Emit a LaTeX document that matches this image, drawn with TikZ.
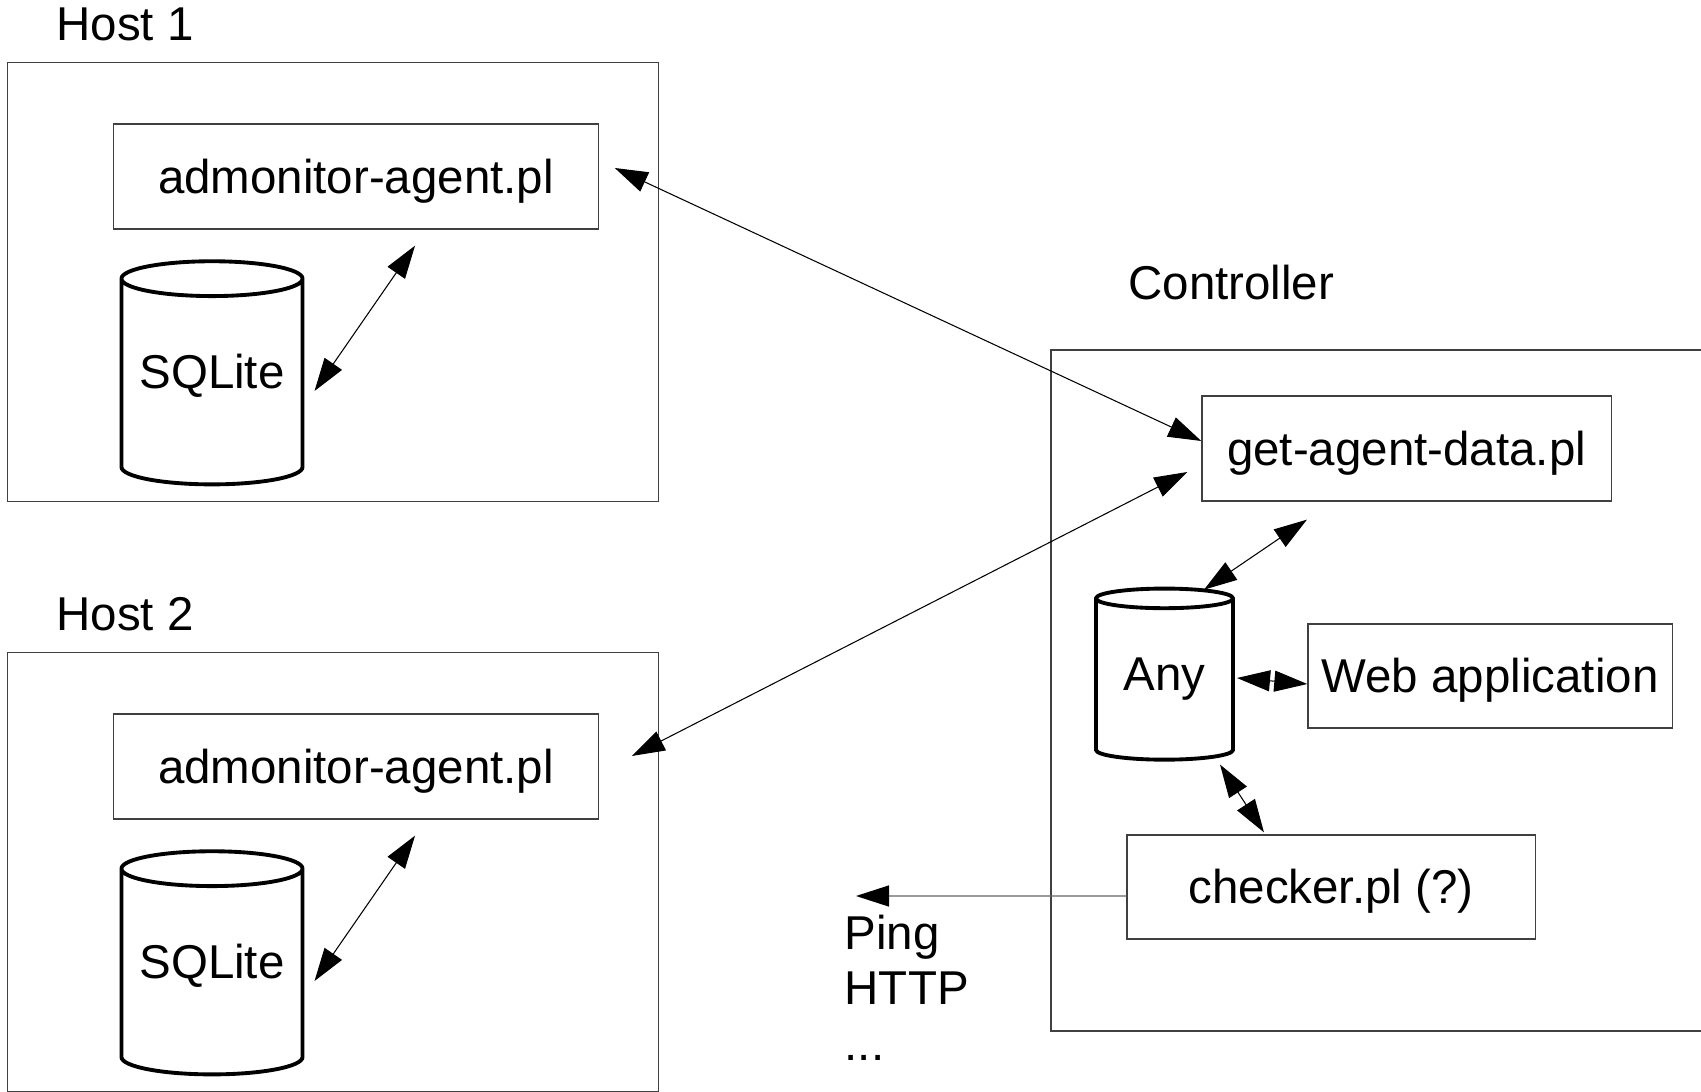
\documentclass[tikz,border=0pt]{standalone}
\usepackage{fontspec}
\setmainfont{Liberation Sans}
\usetikzlibrary{arrows.meta,shapes.geometric}

\begin{document}
\begin{tikzpicture}[x=0.01cm, y=-0.01cm,
    every node/.style={font=\fontsize{13.5pt}{15pt}\selectfont},
    group/.style={draw=black!75, line width=0.35pt, inner sep=0pt},
    script/.style={draw=black!75, line width=0.35pt, inner sep=0pt, text height=1.0em, text depth=0.06em},
    db/.style={cylinder, shape border rotate=90, draw, line width=1.1pt, aspect=0.24, inner sep=0pt, text height=0.73em, text depth=0.37em},
    link/.style={{Triangle[length=0.33cm,width=0.21cm]}-{Triangle[length=0.33cm,width=0.21cm]}, line width=0.3pt}]
\useasboundingbox (0,0) rectangle (1701,1092);
% Draw hosts
\foreach \n/\y in {1/0, 2/590} {
    \node[anchor=base west] (title\n) at (44,{41+\y}) {Host \n};
    \node[group, minimum width=6.51cm, minimum height=4.38cm] (host\n) at (333,{282+\y}) {};
    \node[script, minimum width=4.84cm, minimum height=1.05cm] (agent\n) at (356,{176.5+\y}) {admonitor-agent.pl};
    \node[db, minimum width=1.81cm, minimum height=2.23cm] (sql\n) at (212,{382.5+\y}) {SQLite};
    \draw[link] ([xshift=0.1cm,yshift=-0.085cm]sql\n.east) -- ([xshift=0.59cm,yshift=-0.16cm]agent\n.south);
}
% Draw controller
\node[anchor=base west] (ctrltitle) at (1116,300) {Controller};
\draw[draw=black!75, line width=0.35pt] (1701,350) -- (1051,350) -- (1051,1031) -- (1701,1031);
\node[script, minimum width=4.09cm, minimum height=1.05cm] (gad) at (1406.5,448.5) {get-agent-data.pl};
\node[db, minimum width=1.37cm, minimum height=1.71cm, text depth=0.15em] (any) at (1164.5,680) {Any};
\node[script, minimum width=3.64cm, minimum height=1.04cm] (web) at (1490,676) {Web application};
\node[script, minimum width=4.08cm, minimum height=1.04cm] (checker) at (1331,887) {checker.pl (?)};
% Draw links
\draw[link] ([xshift=0.16cm,yshift=0.085cm]agent1.east) -- ([yshift=0.075cm]gad.west);
\draw[link] ([xshift=0.33cm,yshift=0.105cm]agent2.east) -- ([xshift=-0.14cm,yshift=-0.235cm]gad.west);
\draw[link] ([xshift=-0.995cm,yshift=-0.18cm]gad.south) -- ([xshift=0.395cm,yshift=-0.03cm]any.north);
\draw[link] ([xshift=0.02cm,yshift=0.02cm]any.east) -- ([yshift=-0.08cm]web.west);
\draw[link] ([xshift=0.555cm,yshift=-0.03cm]any.south) -- ([xshift=-0.67cm,yshift=0.02cm]checker.north);
\coordinate (ping) at (856,896);
\draw[-{Triangle[length=0.33cm,width=0.21cm,color=black]}, draw=black!60, line width=0.4pt] ([yshift=-0.09cm]checker.west) -- (ping);
\node[anchor=north west, align=left, inner sep=0pt, font=\fontsize{13.5pt}{15.8pt}\selectfont] (proto) at (844,914) {Ping\\HTTP\\...};
\end{tikzpicture}
\end{document}
